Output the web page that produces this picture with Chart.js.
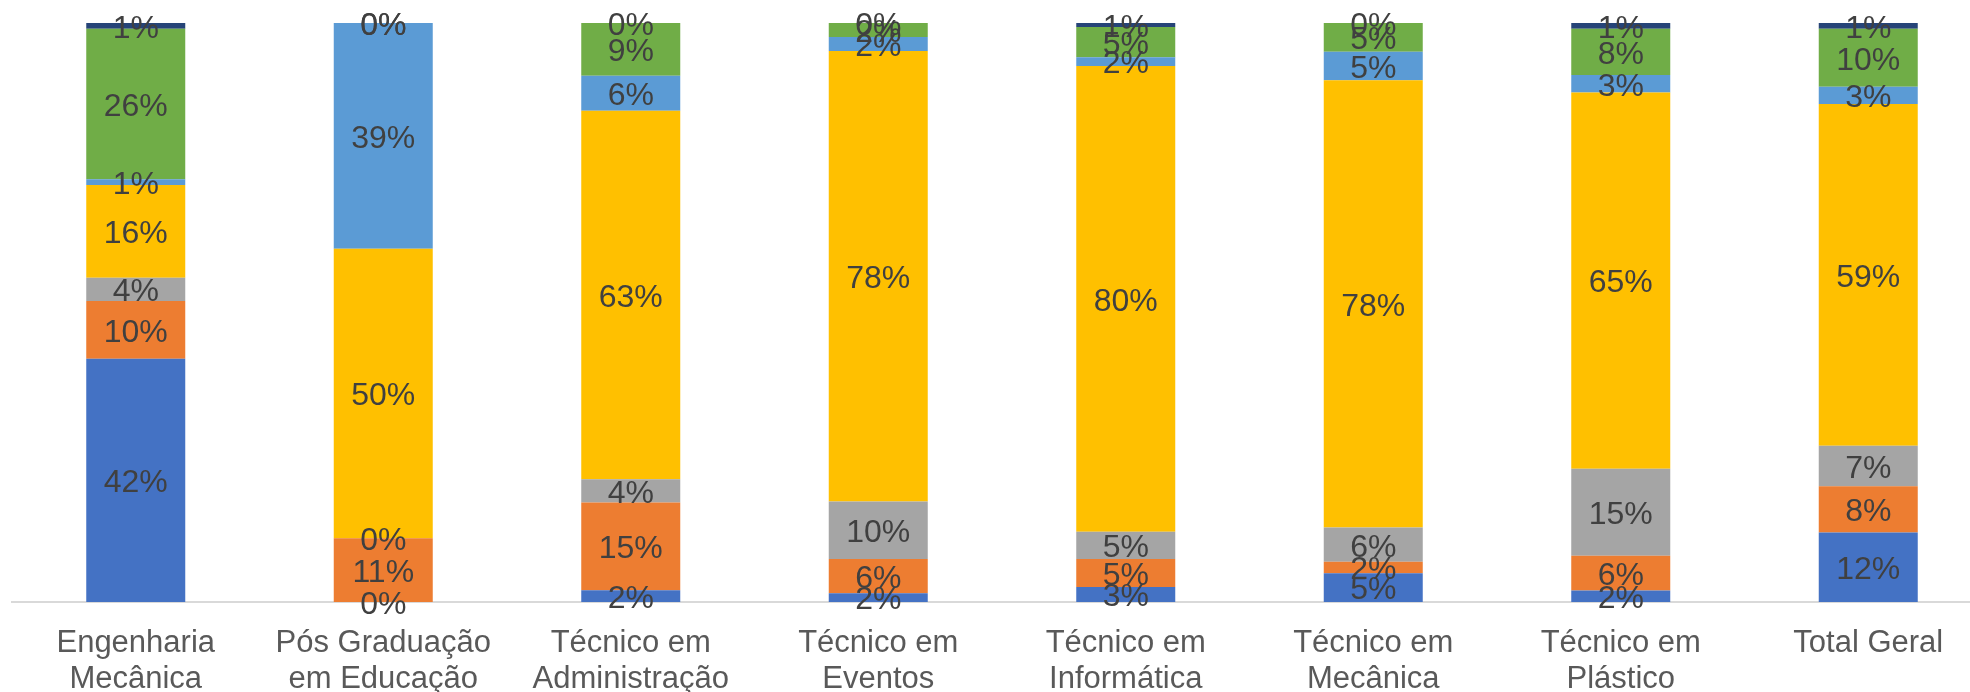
<!DOCTYPE html>
<html>
<head>
<meta charset="utf-8">
<script src="https://cdn.jsdelivr.net/npm/chart.js@4"></script>
<style>
 html, body { margin:0; padding:0; background:#fff; overflow:hidden; }
 #wrap { width:1992px; height:692px; position:relative; }
</style>
</head>
<body>
<div id="wrap"><canvas id="myChart"></canvas></div>
<script>
// categorias (eixo x)
const categorias = [
  ['Engenharia', 'Mecânica'],
  ['Pós Graduação', 'em Educação'],
  ['Técnico em', 'Administração'],
  ['Técnico em', 'Eventos'],
  ['Técnico em', 'Informática'],
  ['Técnico em', 'Mecânica'],
  ['Técnico em', 'Plástico'],
  'Total Geral'
];

// percentuais por série, de baixo para cima
const serie1 = [42, 0, 2, 1.5, 2.6, 5, 2, 12];
const serie2 = [10, 11, 15, 5.9, 4.8, 2, 6, 8];
const serie3 = [4, 0, 4, 9.9, 4.7, 6, 15, 7];
const serie4 = [16, 50, 63, 77.6, 80.4, 78, 65, 59];
const serie5 = [1, 39, 6, 2.4, 1.5, 5, 3, 3];
const serie6 = [26, 0, 9, 2.4, 5.2, 5, 8, 10];
const serie7 = [1, 0, 0, 0, 0.7, 0, 1, 1];

const series = [serie1, serie2, serie3, serie4, serie5, serie6, serie7];
const cores = ['#4472C4', '#ED7D31', '#A5A5A5', '#FFC000', '#5B9BD5', '#70AD47', '#264478'];

// total de cada coluna (para empilhar em 100%)
const totais = categorias.map((c, i) => series.reduce((s, arr) => s + arr[i], 0));

const fonte = "'Liberation Sans', Arial, sans-serif";

// rótulos de dados no centro de cada segmento
const rotulos = {
  id: 'rotulos',
  afterDatasetsDraw(chart) {
    const ctx = chart.ctx;
    ctx.save();
    ctx.font = '32px ' + fonte;
    ctx.fillStyle = '#404040';
    ctx.textAlign = 'center';
    ctx.textBaseline = 'middle';
    chart.data.datasets.forEach((ds, d) => {
      const meta = chart.getDatasetMeta(d);
      meta.data.forEach((el, i) => {
        const v = series[d][i];
        const y = (el.y + el.base) / 2 + 3;
        ctx.fillText(Math.round(v) + '%', el.x, y);
      });
    });
    ctx.restore();
  }
};

const ctx = document.getElementById('myChart').getContext('2d');
const myChart = new Chart(ctx, {
  type: 'bar',
  data: {
    labels: categorias,
    datasets: series.map((arr, d) => ({
      label: 'Série ' + (d + 1),
      data: arr.map((v, i) => v / totais[i] * 100),
      backgroundColor: cores[d],
      borderWidth: 0,
      barPercentage: 0.4,
      categoryPercentage: 1
    }))
  },
  options: {
    responsive: true,
    maintainAspectRatio: false,
    animation: false,
    layout: { padding: { top: 23, left: 12, right: 0, bottom: 0 } },
    plugins: {
      legend: { display: false },
      tooltip: { enabled: false }
    },
    scales: {
      x: {
        stacked: true,
        grid: { display: false },
        border: { display: true, color: '#D9D9D9', width: 2 },
        ticks: {
          color: '#595959',
          font: { family: fonte, size: 31, lineHeight: 1.17 },
          padding: 15,
          maxRotation: 0,
          autoSkip: false
        },
        afterFit: (scale) => { scale.height = 90; }
      },
      y: {
        stacked: true,
        display: false,
        min: 0,
        max: 100
      }
    }
  },
  plugins: [rotulos]
});
</script>
</body>
</html>
